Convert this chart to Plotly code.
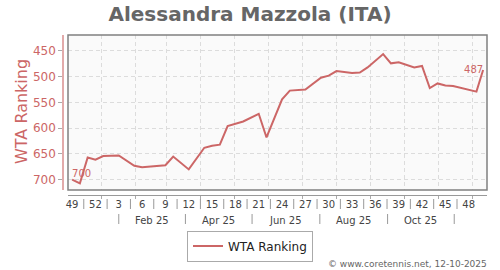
import plotly.graph_objects as go
import pandas as pd

# ---- data ----
dates = ["2024-12-06", "2024-12-13", "2024-12-20", "2024-12-27", "2025-01-03",
         "2025-01-17", "2025-01-31", "2025-02-07", "2025-02-28", "2025-03-07",
         "2025-03-21", "2025-04-04", "2025-04-11", "2025-04-18", "2025-04-25",
         "2025-05-09", "2025-05-23", "2025-05-30", "2025-06-13", "2025-06-20",
         "2025-07-04", "2025-07-18", "2025-07-25", "2025-08-01", "2025-08-15",
         "2025-08-22", "2025-08-29", "2025-09-12", "2025-09-19", "2025-09-26",
         "2025-10-10", "2025-10-17", "2025-10-24", "2025-10-31", "2025-11-07",
         "2025-11-14", "2025-12-05", "2025-12-11"]
ranks = [700, 707, 657, 661, 654, 653, 673, 676, 672, 655, 680, 638, 634, 632,
         596, 587, 572, 618, 544, 527, 525, 502, 498, 489, 493, 492, 482, 456,
         474, 472, 482, 479, 522, 513, 517, 518, 529, 487]

week_labels = ["49", "52", "3", "6", "9", "12", "15", "18", "21", "24", "27",
               "30", "33", "36", "39", "42", "45", "48"]
week_tick_dates = pd.date_range("2024-12-06", periods=len(week_labels), freq="21D")
month_grid = pd.date_range("2025-01-01", "2025-12-01", freq="MS")
month_labels = ["Feb 25", "Apr 25", "Jun 25", "Aug 25", "Oct 25"]
month_seps = pd.to_datetime(["2025-01-17", "2025-03-18", "2025-05-17",
                             "2025-07-17", "2025-09-16", "2025-11-15"])
y_ticks = [450, 500, 550, 600, 650, 700]

RED = "#cc6666"
GRID = "#dcdcdc"

# ---- geometry (px) ----
W, H = 500, 270
ML, MR, MT, MB = 63, 13, 35, 75
PW, PH = W - ML - MR, H - MT - MB


def py(px_y):
    return (H - MB - px_y) / PH


def px_x(px):
    return (px - ML) / PW


labels = [""] * len(ranks)
labels[0] = str(ranks[0])
labels[-1] = str(ranks[-1])
positions = ["top right"] * len(ranks)
positions[-1] = "middle left"

fig = go.Figure()
fig.add_trace(go.Scatter(
    x=dates, y=ranks, mode="lines+text", name="WTA Ranking",
    line=dict(color=RED, width=2),
    text=labels, textposition=positions,
    textfont=dict(color=RED, size=10),
    cliponaxis=False,
))

shapes = [dict(type="rect", xref="x domain", yref="y domain", x0=0, x1=1, y0=0, y1=1,
               line=dict(color="#808080", width=1.5), layer="above")]
# separators between week labels
for a, b in zip(week_tick_dates[:-1], week_tick_dates[1:]):
    m = a + (b - a) / 2
    shapes.append(dict(type="line", xref="x", yref="paper", x0=m, x1=m,
                       y0=py(199), y1=py(209), line=dict(color="#999", width=1)))
# separators between month labels
for s in month_seps:
    shapes.append(dict(type="line", xref="x", yref="paper", x0=s, x1=s,
                       y0=py(214), y1=py(224), line=dict(color="#999", width=1)))

annotations = []
for lab, a, b in zip(month_labels, month_seps[:-1], month_seps[1:]):
    annotations.append(dict(text=lab, x=a + (b - a) / 2, xref="x", yref="paper",
                            y=py(220), yanchor="middle", xanchor="center",
                            showarrow=False, font=dict(size=10, color="#444")))
annotations.append(dict(text="© www.coretennis.net, 12-10-2025", xref="paper", yref="paper",
                        x=px_x(489), y=py(264), xanchor="right", yanchor="middle",
                        showarrow=False, font=dict(size=9, color="#666")))
annotations.append(dict(text="WTA Ranking", xref="paper", yref="paper",
                        x=px_x(21), y=py(112), xanchor="center", yanchor="middle",
                        textangle=-90, showarrow=False,
                        font=dict(size=16, color=RED)))

fig.update_layout(
    width=W, height=H,
    margin=dict(l=ML, r=MR, t=MT, b=MB, pad=0, autoexpand=False),
    paper_bgcolor="white", plot_bgcolor="#fafafa",
    font=dict(family="DejaVu Sans", color="#444"),
    title=dict(text="<b>Alessandra Mazzola (ITA)</b>", x=0.5, xanchor="center",
               y=1 - 14 / H, yanchor="middle",
               font=dict(size=20, color="#666666", family="DejaVu Sans")),
    xaxis=dict(
        type="date", range=["2024-12-02 07:00", "2025-12-14 12:00"],
        domain=[5 / PW, 1], anchor="free", position=0,
        showline=True, linecolor="#999", linewidth=1,
        tickmode="array", tickvals=week_tick_dates, ticktext=week_labels,
        ticks="", showgrid=False, zeroline=False,
        tickfont=dict(size=10, color="#444"),
        minor=dict(tickmode="array", tickvals=month_grid, showgrid=True,
                   gridcolor=GRID, griddash="4px,3px", gridwidth=1,
                   ticks="outside", ticklen=3, tickcolor="#aaa"),
    ),
    yaxis=dict(
        range=[720, 419], domain=[5 / PH, 1], anchor="free", position=0,
        showline=True, linecolor="#e2aaaa", linewidth=1.5,
        tickmode="array", tickvals=y_ticks,
        ticks="outside", ticklen=4, tickcolor="#aaa",
        tickfont=dict(size=12, color=RED),
        showgrid=True, gridcolor=GRID, griddash="4px,3px", zeroline=False,
    ),
    showlegend=True,
    legend=dict(orientation="h", x=px_x(250), xanchor="center", y=py(246), yanchor="middle",
                bordercolor="#aaa", borderwidth=1, bgcolor="white",
                font=dict(size=12, color="#222")),
    shapes=shapes, annotations=annotations,
)

fig.write_html("out.html")
